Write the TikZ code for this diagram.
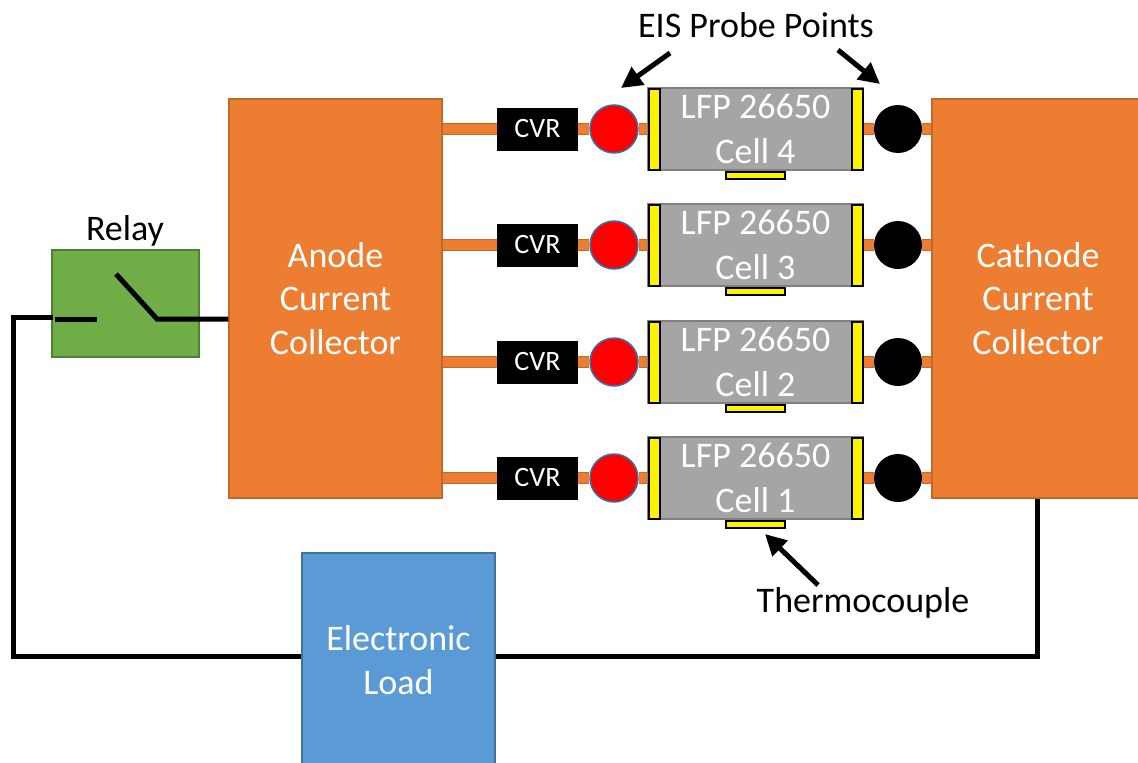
\documentclass[tikz,border=0pt]{standalone}
\usepackage{fontspec}
\setmainfont{Carlito}
\usetikzlibrary{arrows.meta}
\definecolor{orangeF}{HTML}{ED7D31}
\definecolor{orangeD}{HTML}{BE6A2C}
\definecolor{greenF}{HTML}{70AD47}
\definecolor{greenD}{HTML}{507E32}
\definecolor{blueF}{HTML}{5B9BD5}
\definecolor{blueD}{HTML}{41719C}
\definecolor{grayF}{HTML}{A5A5A5}
\definecolor{grayD}{HTML}{808080}
\definecolor{redD}{HTML}{2E75B6}
\tikzset{
  box/.style={rectangle,inner sep=0pt,line width=1.2pt,align=center,text=white,
    font=\fontsize{36}{43.5}\selectfont},
  collector/.style={box,draw=orangeD,fill=orangeF,minimum width=213pt,minimum height=399pt},
  relaybox/.style={box,draw=greenD,fill=greenF,minimum width=147pt,minimum height=107pt},
  loadbox/.style={box,draw=blueD,fill=blueF,minimum width=193pt,minimum height=214pt},
  cellbox/.style={box,draw=grayD,fill=grayF,minimum width=215pt,minimum height=82pt,
    font=\fontsize{36}{45}\selectfont},
  cvrbox/.style={rectangle,inner sep=0pt,fill=black,text=white,minimum width=81pt,minimum height=43pt,
    font=\fontsize{28}{32}\selectfont},
  redprobe/.style={circle,inner sep=0pt,minimum size=48pt,fill=red,draw=redD,line width=1.5pt},
  blackprobe/.style={circle,inner sep=0pt,minimum size=48pt,fill=black},
  capbar/.style={rectangle,inner sep=0pt,fill=yellow,draw=black,line width=2pt,minimum width=11pt,minimum height=81pt},
  tcbar/.style={rectangle,inner sep=0pt,fill=yellow,draw=black,line width=2pt,minimum width=59pt,minimum height=7pt},
  strip/.style={draw=orangeD,line width=1pt,double=orangeF,double distance=10pt},
  wire/.style={draw=black,line width=5pt,line cap=butt,line join=miter},
  pointer/.style={draw=black,line width=5pt,-{Triangle[length=21pt,width=21pt]}},
  caption/.style={inner sep=0pt,text=black,font=\fontsize{36}{42}\selectfont}
}
\begin{document}
\begin{tikzpicture}[x=1pt,y=-1pt]
\useasboundingbox (0,0) rectangle (1138,763);
\clip (0,0) rectangle (1138,763);
\fill[white] (0,0) rectangle (1138,763);

\node[collector] (anode) at (335.5,298.5) {Anode\\Current\\Collector};
\node[collector,minimum width=212pt] (cathode) at (1038,298.5) {Cathode\\Current\\Collector};
\node[relaybox] (relay) at (125.5,303.5) {};
\node[loadbox] (load) at (398.5,660) {Electronic\\Load};

\foreach \r/\y in {4/129,3/245,2/362,1/478}{
  \node[cvrbox] (cvr\r) at (537.5,\y) {CVR};
  \node[cellbox] (cell\r) at (755.5,\y) {LFP 26650\\Cell \r};
  \node[redprobe] (red\r) at (614,\y) {};
  \node[blackprobe] (black\r) at (898,\y) {};
  \draw[strip] (anode.east |- cvr\r.west) -- (cvr\r.west);
  \draw[strip] (cvr\r.east) -- (red\r.west);
  \draw[strip] (red\r.east) -- (cell\r.west);
  \draw[strip] (cell\r.east) -- (black\r.west);
  \draw[strip] (black\r.east) -- (cathode.west |- black\r.east);
  \node[capbar] (capL\r) at (654,\y) {};
  \node[capbar] (capR\r) at (857.5,\y) {};
  \node[tcbar] (tc\r) at (755.5,\y+46) {};
}

% relay contacts and main wiring
\coordinate (cornerL) at (13,317);
\coordinate (cornerB) at (13,656);
\coordinate (cornerR) at (1037,656);
\coordinate (contactA) at (55,319);
\coordinate (contactB) at (97,319);
\coordinate (armTip) at (116,274);
\coordinate (armPivot) at (157,319);
\coordinate (wireL) at (52.5,317);
\draw[wire] (wireL) -- (cornerL) -- (cornerB) -- (load.west |- cornerB);
\draw[wire] (load.east |- cornerR) -- (cornerR) -- (cathode.south -| cornerR);
\draw[wire] (contactA) -- (contactB);
\draw[wire] (armTip) -- (armPivot) -- (anode.west |- armPivot);

% captions
\node[caption] (relaylabel) at (125,231) {Relay};
\node[caption] (eis) at (756,25) {EIS Probe Points};
\node[caption] (thermo) at (863,603) {Thermocouple};

\coordinate (eisL) at (670,53);
\coordinate (eisLtip) at (621,88);
\coordinate (eisR) at (838,50);
\coordinate (eisRtip) at (880,84);
\coordinate (thS) at (818,585);
\coordinate (thT) at (765,534);
\draw[pointer] (eisL) -- (eisLtip);
\draw[pointer] (eisR) -- (eisRtip);
\draw[pointer] (thS) -- (thT);
\end{tikzpicture}
\end{document}
